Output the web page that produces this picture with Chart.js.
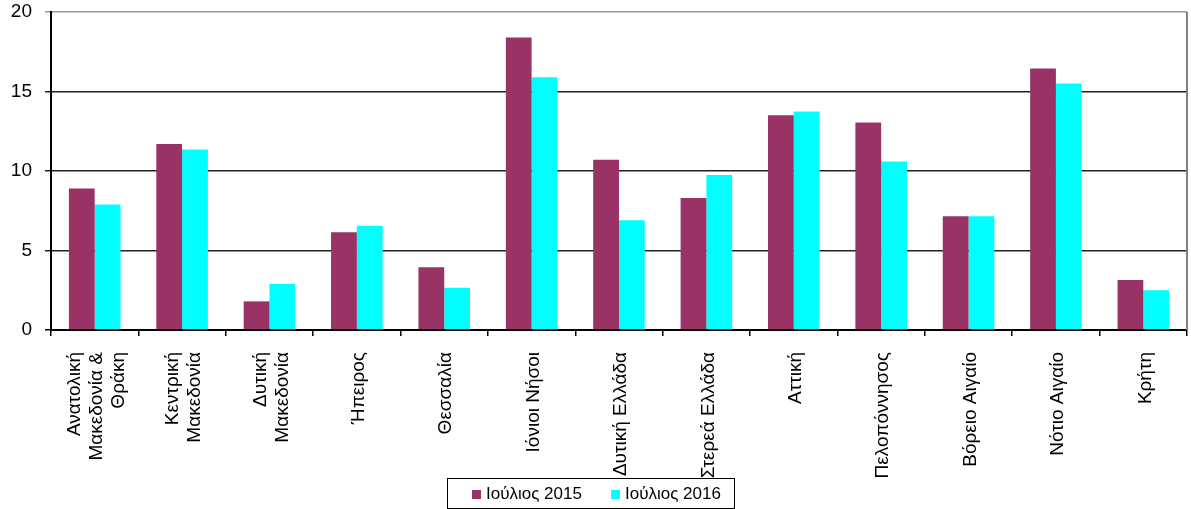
<!DOCTYPE html>
<html>
<head>
<meta charset="utf-8">
<script src="https://cdn.jsdelivr.net/npm/chart.js@4/dist/chart.umd.min.js"></script>
<style>
  html, body { margin: 0; padding: 0; background: #fff; }
  #wrap { position: relative; width: 1191px; height: 509px; }
</style>
</head>
<body>
<div id="wrap"><canvas id="bar-chart"></canvas></div>
<script>

var regions = [
  [ 'Ανατολική', 'Μακεδονία &', 'Θράκη' ],
  [ 'Κεντρική', 'Μακεδονία' ],
  [ 'Δυτική', 'Μακεδονία' ],
  'Ήπειρος',
  'Θεσσαλία',
  'Ιόνιοι Νήσοι',
  'Δυτική Ελλάδα',
  'Στερεά Ελλάδα',
  'Αττική',
  'Πελοπόννησος',
  'Βόρειο Αιγαίο',
  'Νότιο Αιγαίο',
  'Κρήτη'
];

var july2015 = [ 8.9, 11.7, 1.8, 6.15, 3.95, 18.4, 10.7, 8.3, 13.5, 13.05, 7.15, 16.45, 3.15 ];
var july2016 = [ 7.9, 11.35, 2.9, 6.55, 2.65, 15.9, 6.9, 9.75, 13.75, 10.6, 7.15, 15.5, 2.5 ];

var seriesNames = [ 'Ιούλιος 2015', 'Ιούλιος 2016' ];
var yTicks = [ 0, 5, 10, 15, 20 ];

( function() {

  var FONT = '"Liberation Sans", Arial, sans-serif';

  // category labels drawn rotated and centred on each tick
  var xLabels = {
    id: 'xLabels',
    afterDraw: function( chart ) {
      var ctx = chart.ctx;
      var xs = chart.scales.x;
      var lh = 22;
      ctx.save();
      ctx.font = '19px ' + FONT;
      ctx.fillStyle = '#000';
      ctx.textAlign = 'right';
      ctx.textBaseline = 'middle';
      chart.data.labels.forEach( function( lab, i ) {
        var lines = Array.isArray( lab ) ? lab : [ lab ];
        var x0 = xs.getPixelForValue( i );
        lines.forEach( function( line, j ) {
          var x = x0 + ( j - ( lines.length - 1 ) / 2 ) * lh + 2;
          ctx.save();
          ctx.translate( x, chart.chartArea.bottom + 22 );
          ctx.rotate( -Math.PI / 2 );
          ctx.fillText( line, 0, 0 );
          ctx.restore();
        } );
      } );
      ctx.restore();
    }
  };

  // right frame line and boxed legend
  var frame = {
    id: 'frame',
    afterDraw: function( chart ) {
      var ctx = chart.ctx;
      var a = chart.chartArea;
      ctx.save();
      ctx.strokeStyle = '#808080';
      ctx.lineWidth = 2;
      ctx.beginPath();
      ctx.moveTo( a.right, a.top );
      ctx.lineTo( a.right, a.bottom );
      ctx.stroke();

      ctx.strokeStyle = '#000';
      ctx.lineWidth = 1;
      ctx.strokeRect( 447.5, 478.5, 287, 30 );

      ctx.font = '17px ' + FONT;
      ctx.textBaseline = 'middle';
      ctx.textAlign = 'left';
      var starts = [ 472, 611 ];
      chart.data.datasets.forEach( function( ds, i ) {
        ctx.fillStyle = ds.backgroundColor;
        ctx.fillRect( starts[ i ], 490, 9, 9 );
        ctx.fillStyle = '#000';
        ctx.fillText( ds.label, starts[ i ] + 14, 494 );
      } );
      ctx.restore();
    }
  };

  var config = {
    type: 'bar',
    data: {
      labels: regions,
      datasets: [
        {
          label: seriesNames[ 0 ],
          data: july2015,
          backgroundColor: '#993366',
          categoryPercentage: 0.59,
          barPercentage: 1.0
        },
        {
          label: seriesNames[ 1 ],
          data: july2016,
          backgroundColor: '#00FFFF',
          categoryPercentage: 0.59,
          barPercentage: 1.0
        }
      ]
    },
    options: {
      responsive: true,
      maintainAspectRatio: false,
      animation: false,
      devicePixelRatio: 1,
      layout: {
        padding: { top: 12, right: 4, bottom: 0, left: 0 }
      },
      plugins: {
        legend: { display: false },
        tooltip: { enabled: false }
      },
      scales: {
        x: {
          offset: true,
          grid: {
            display: true,
            offset: true,
            drawOnChartArea: false,
            drawTicks: true,
            tickLength: 6,
            color: '#000',
            lineWidth: 1.5
          },
          border: { display: true, color: '#000', width: 2 },
          ticks: { display: false },
          afterFit: function( s ) {
            s.height = 179;
            s.paddingLeft = 0;
            s.paddingRight = 0;
          }
        },
        y: {
          min: yTicks[ 0 ],
          max: yTicks[ yTicks.length - 1 ],
          afterBuildTicks: function( s ) {
            s.ticks = yTicks.map( function( v ) { return { value: v }; } );
          },
          grid: {
            drawTicks: true,
            tickLength: 6,
            color: function( c ) {
              if ( c.tick && c.tick.value === 20 ) return '#999';
              if ( c.tick && c.tick.value === 0 ) return '#000';
              return '#222';
            },
            lineWidth: 1.5
          },
          border: { display: true, color: '#000', width: 2 },
          ticks: {
            color: '#000',
            font: { family: FONT, size: 19 },
            padding: 13
          },
          afterFit: function( s ) {
            s.width = 51;
            s.paddingTop = 0;
            s.paddingBottom = 0;
          }
        }
      }
    },
    plugins: [ xLabels, frame ]
  };

  new Chart( document.getElementById( 'bar-chart' ), config );

} )();
</script>
</body>
</html>
